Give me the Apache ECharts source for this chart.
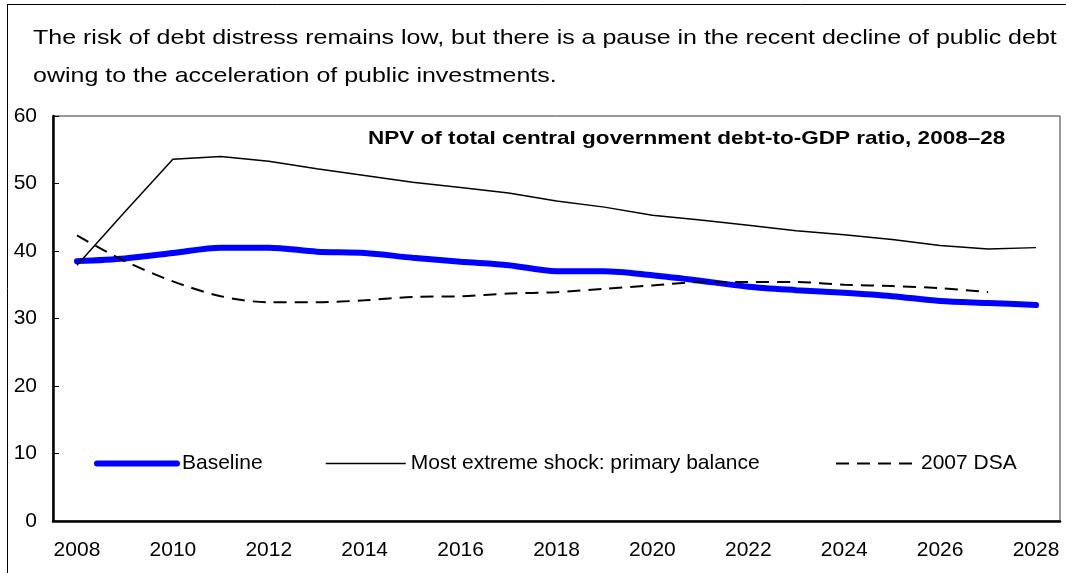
<!DOCTYPE html>
<html>
<head>
<meta charset="utf-8">
<script src="https://cdn.jsdelivr.net/npm/echarts@6/dist/echarts.min.js"></script>
<style>
html,body{margin:0;padding:0;background:#fff;}
#chart{width:1066px;height:573px;}
</style>
</head>
<body>
<div id="chart"></div>
<script>
const years = ['2008','2009','2010','2011','2012','2013','2014','2015','2016','2017','2018','2019','2020','2021','2022','2023','2024','2025','2026','2027','2028'];
const baseline = [38.5,38.9,39.7,40.5,40.5,39.9,39.7,39.0,38.4,37.9,37.0,37.0,36.4,35.6,34.7,34.2,33.8,33.3,32.6,32.3,32.0];
const shock = [37.9,45.8,53.6,54.0,53.3,52.2,51.2,50.2,49.4,48.6,47.4,46.5,45.3,44.6,43.8,43.0,42.4,41.7,40.8,40.3,40.5];
const dsa2007 = [42.3,38.5,35.5,33.3,32.4,32.4,32.7,33.2,33.3,33.7,33.9,34.4,34.9,35.4,35.4,35.4,35.0,34.8,34.5,33.9,null];
const yTicks = [0,10,20,30,40,50,60];
const seriesNames = ['Baseline','Most extreme shock: primary balance','2007 DSA'];
const headline1 = 'The risk of debt distress remains low, but there is a pause in the recent decline of public debt';
const headline2 = 'owing to the acceleration of public investments.';
const panelTitle = 'NPV of total central government debt-to-GDP ratio, 2008\u201328';

const FONT = 'Liberation Sans, Arial, sans-serif';
const chart = echarts.init(document.getElementById('chart'));

function legendAt(name, left, w) {
  return {
    left: left, top: 453, padding: 0,
    itemWidth: w, itemHeight: 14, itemGap: 0,
    itemStyle: {opacity: 0, borderWidth: 0},
    lineStyle: {width: 'inherit'},
    textStyle: {fontFamily: FONT, fontSize: 21, color: '#000', padding: [0,0,0,0]},
    data: [name]
  };
}

chart.setOption({
  animation: false,
  textStyle: {fontFamily: FONT, color: '#000'},
  graphic: [
    {type: 'line', shape: {x1: 7.5, y1: 4, x2: 7.5, y2: 573}, style: {stroke: '#000', lineWidth: 1}},
    {type: 'line', shape: {x1: 7.5, y1: 4.5, x2: 1066, y2: 4.5}, style: {stroke: '#000', lineWidth: 1}},
    {type: 'text', x: 33, y: 28, scaleX: 1.19, style: {text: headline1, font: '21px ' + FONT, fill: '#000'}},
    {type: 'text', x: 33, y: 66, scaleX: 1.19, style: {text: headline2, font: '21px ' + FONT, fill: '#000'}},
    {type: 'text', x: 368, y: 129, scaleX: 1.186, style: {text: panelTitle, font: 'bold 19px ' + FONT, fill: '#000'}}
  ],
  legend: [
    legendAt(seriesNames[0], 94, 80),
    legendAt(seriesNames[1], 325, 80),
    legendAt(seriesNames[2], 835, 80)
  ],
  grid: {left: 53, right: 6, top: 116, bottom: 52, show: true, borderColor: '#333', borderWidth: 1},
  xAxis: {
    type: 'category', data: years, boundaryGap: true,
    axisLine: {lineStyle: {color: '#000', width: 2.5}},
    axisTick: {inside: true, length: 6, interval: 0, lineStyle: {color: '#000', width: 1}},
    axisLabel: {interval: 1, fontSize: 21, color: '#000', margin: 19, fontFamily: FONT}
  },
  yAxis: {
    type: 'value', min: 0, max: 60, interval: 10,
    splitLine: {show: false},
    axisLine: {show: true, lineStyle: {color: '#000', width: 2.5}},
    axisTick: {show: true, inside: true, length: 6, lineStyle: {color: '#000', width: 1}},
    axisLabel: {fontSize: 21, color: '#000', margin: 16, fontFamily: FONT,
      formatter: v => yTicks.includes(v) ? String(v) : ''}
  },
  series: [
    {name: seriesNames[0], type: 'line', data: baseline, symbol: 'none', smooth: 0.3,
      lineStyle: {color: '#0000ff', width: 6, cap: 'round'}, itemStyle: {color: '#0000ff'}, z: 2},
    {name: seriesNames[1], type: 'line', data: shock, symbol: 'none', smooth: false,
      lineStyle: {color: '#000', width: 1.5}, itemStyle: {color: '#000'}, z: 3},
    {name: seriesNames[2], type: 'line', data: dsa2007, symbol: 'none', smooth: 0.3,
      lineStyle: {color: '#000', width: 2, type: [13, 8]}, itemStyle: {color: '#000'}, z: 3}
  ]
});
</script>
</body>
</html>
